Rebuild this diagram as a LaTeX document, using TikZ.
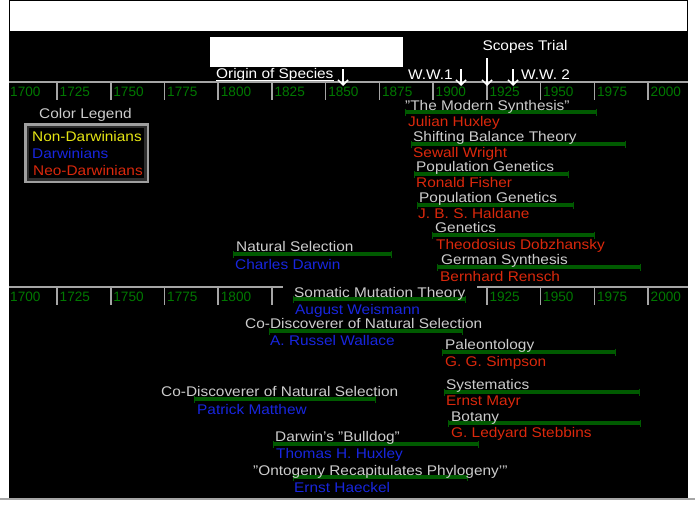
\documentclass[tikz,border=0pt]{standalone}
\usepackage{fontspec}
\setmainfont{Liberation Sans}[FakeStretch=1.1]
\newfontfamily\yearfont{Liberation Sans}
\usetikzlibrary{positioning,arrows.meta}

\definecolor{topicgray}{RGB}{205,205,205}
\definecolor{darwinblue}{RGB}{24,38,222}
\definecolor{neored}{RGB}{218,40,12}
\definecolor{nonyellow}{RGB}{230,230,20}
\definecolor{bargreen}{RGB}{0,90,0}
\definecolor{yeargreen}{RGB}{0,120,0}
\definecolor{axisgray}{RGB}{165,165,165}

\begin{document}
\begin{tikzpicture}[x=1pt,y=-1pt,every node/.style={inner sep=0pt,anchor=base west,yshift=-5pt,font=\fontsize{14}{16}\selectfont},topic/.style={text=topicgray},darwinian/.style={text=darwinblue},neo/.style={text=neored},span/.style={draw=bargreen,line width=3.4pt,{Bar[width=7pt,line width=1.2pt]}-{Bar[width=7pt,line width=1.2pt]}},yearlabel/.style={text=yeargreen,font=\yearfont\fontsize{13.6}{15}\selectfont},tick/.style={draw=axisgray,line width=1.6pt},event/.style={draw=white,line width=1.5pt,-{Straight Barb[length=5pt,width=10pt,line width=1.5pt]}}]
\useasboundingbox (0,0) rectangle (695,512);
% page and frame
\fill[white] (0,0) rectangle (695,512);
\fill[black] (9,31) rectangle (688,497);
\draw[black,line width=0.8pt] (9,0.4) rectangle (687,497);
\draw[gray!70,line width=2pt] (0,498.5) -- (695,498.5);
\node[fill=white,anchor=center,yshift=0pt,minimum width=193pt,minimum height=30pt] (titlebox) at (306.5,47) {};
% top time axis
\draw[tick] (9,82) -- (688,82);
\foreach \yr/\xt in {1725/57,1750/110.7,1775/164.5,1800/218.2,1825/271.9,1850/325.6,1875/379.4,1900/433,1925/486.8,1950/540.5,1975/594.3,2000/648}
  \draw[tick] (\xt,82) -- (\xt,100);
\foreach \yr/\xl in {1700/10,1725/59.5,1750/113.2,1775/167,1800/220.7,1825/274.4,1850/328.1,1875/381.9,1900/435.5,1925/489.3,1950/543,1975/596.8,2000/650.5}
  \node[yearlabel] (top\yr) at (\xl,91) {\yr};
% bottom time axis
\draw[tick] (9,287) -- (283,287);
\draw[tick] (477,287) -- (688,287);
\foreach \yr/\xt in {1725/57,1750/110.7,1775/164.5,1800/218.2,1825/271.9,1925/486.8,1950/540.5,1975/594.3,2000/648}
  \draw[tick] (\xt,287) -- (\xt,305);
\foreach \yr/\xl in {1700/10,1725/59.5,1750/113.2,1775/167,1800/220.7,1925/489.3,1950/543,1975/596.8,2000/650.5}
  \node[yearlabel] (low\yr) at (\xl,296) {\yr};
% events
\node[text=white] (origin) at (216,73) {Origin of Species};
\draw[white,line width=1pt] ([yshift=-2.5pt]origin.base west) -- ([yshift=-2.5pt]origin.base east);
\coordinate (originup) at (343,64);
\coordinate (origindown) at (343,81);
\draw[event] (originup) -- (origindown);
\node[text=white] (wwone) at (408,74) {W.W.1};
\coordinate (wwoneup) at (461,64);
\coordinate (wwonedown) at (461,81);
\draw[event] (wwoneup) -- (wwonedown);
\node[text=white,anchor=base] (scopes) at (525,45) {Scopes Trial};
\coordinate (scopesup) at (487,53);
\coordinate (scopesdown) at (487,81);
\draw[event] (scopesup) -- (scopesdown);
\node[text=white] (wwtwo) at (521,74) {W.W. 2};
\coordinate (wwtwoup) at (513,64);
\coordinate (wwtwodown) at (513,81);
\draw[event] (wwtwoup) -- (wwtwodown);
% color legend
\node[topic] (legendtitle) at (39,113) {Color Legend};
\fill[gray!75] (24,123) rectangle (149,183);
\fill[gray!35!black] (26.5,125.5) rectangle (146.5,180.5);
\fill[black] (29,128) rectangle (144,178);
\node[text=nonyellow] (legendnon) at (32,136) {Non-Darwinians};
\node[darwinian] (legenddarwin) at (32,153) {Darwinians};
\node[neo] (legendneo) at (33,170) {Neo-Darwinians};
% life spans
\draw[span] (405,112) -- (597,112);
\draw[span] (411,144) -- (626,144);
\draw[span] (414,174) -- (569,174);
\draw[span] (417,205) -- (574,205);
\draw[span] (432,235) -- (595,235);
\draw[span] (437,267) -- (641,267);
\draw[span] (233,254) -- (392,254);
\draw[span] (293,299) -- (466,299);
\draw[span] (269,331) -- (463,331);
\draw[span] (442,352) -- (616,352);
\draw[span] (444,392) -- (640,392);
\draw[span] (194,399) -- (376,399);
\draw[span] (448,423) -- (641,423);
\draw[span] (273,444) -- (479,444);
\draw[span] (293,477) -- (468,477);
% neo-darwinians
\node[topic] (synthesis) at (405,105) {"The Modern Synthesis"};
\node[neo] (huxleyj) at (408,121) {Julian Huxley};
\node[topic] (balance) at (413,136) {Shifting Balance Theory};
\node[neo] (wright) at (413,152) {Sewall Wright};
\node[topic] (popgenone) at (416,166) {Population Genetics};
\node[neo] (fisher) at (416,182) {Ronald Fisher};
\node[topic] (popgentwo) at (419,197) {Population Genetics};
\node[neo] (haldane) at (418,213) {J. B. S. Haldane};
\node[topic] (genetics) at (435,227) {Genetics};
\node[neo] (dobzhansky) at (436,244) {Theodosius Dobzhansky};
\node[topic] (german) at (441,259) {German Synthesis};
\node[neo] (rensch) at (440,276) {Bernhard Rensch};
\node[topic] (paleo) at (445,344) {Paleontology};
\node[neo] (simpson) at (445,361) {G. G. Simpson};
\node[topic] (systematics) at (446,384) {Systematics};
\node[neo] (mayr) at (446,400) {Ernst Mayr};
\node[topic] (botany) at (451,416) {Botany};
\node[neo] (stebbins) at (451,432) {G. Ledyard Stebbins};
% darwinians
\node[topic] (natsel) at (236,246) {Natural Selection};
\node[darwinian] (darwin) at (235,264) {Charles Darwin};
\node[topic] (somatic) at (294,292) {Somatic Mutation Theory};
\node[darwinian] (weismann) at (295,309) {August Weismann};
\node[topic] (codiscone) at (245,323) {Co-Discoverer of Natural Selection};
\node[darwinian] (wallace) at (270,340) {A. Russel Wallace};
\node[topic] (codisctwo) at (161,391) {Co-Discoverer of Natural Selection};
\node[darwinian] (matthew) at (197,409) {Patrick Matthew};
\node[topic] (bulldog) at (275,436) {Darwin's "Bulldog"};
\node[darwinian] (huxleyt) at (276,453) {Thomas H. Huxley};
\node[topic] (ontogeny) at (253,470) {"Ontogeny Recapitulates Phylogeny'"};
\node[darwinian] (haeckel) at (294,487) {Ernst Haeckel};
\end{tikzpicture}
\end{document}
